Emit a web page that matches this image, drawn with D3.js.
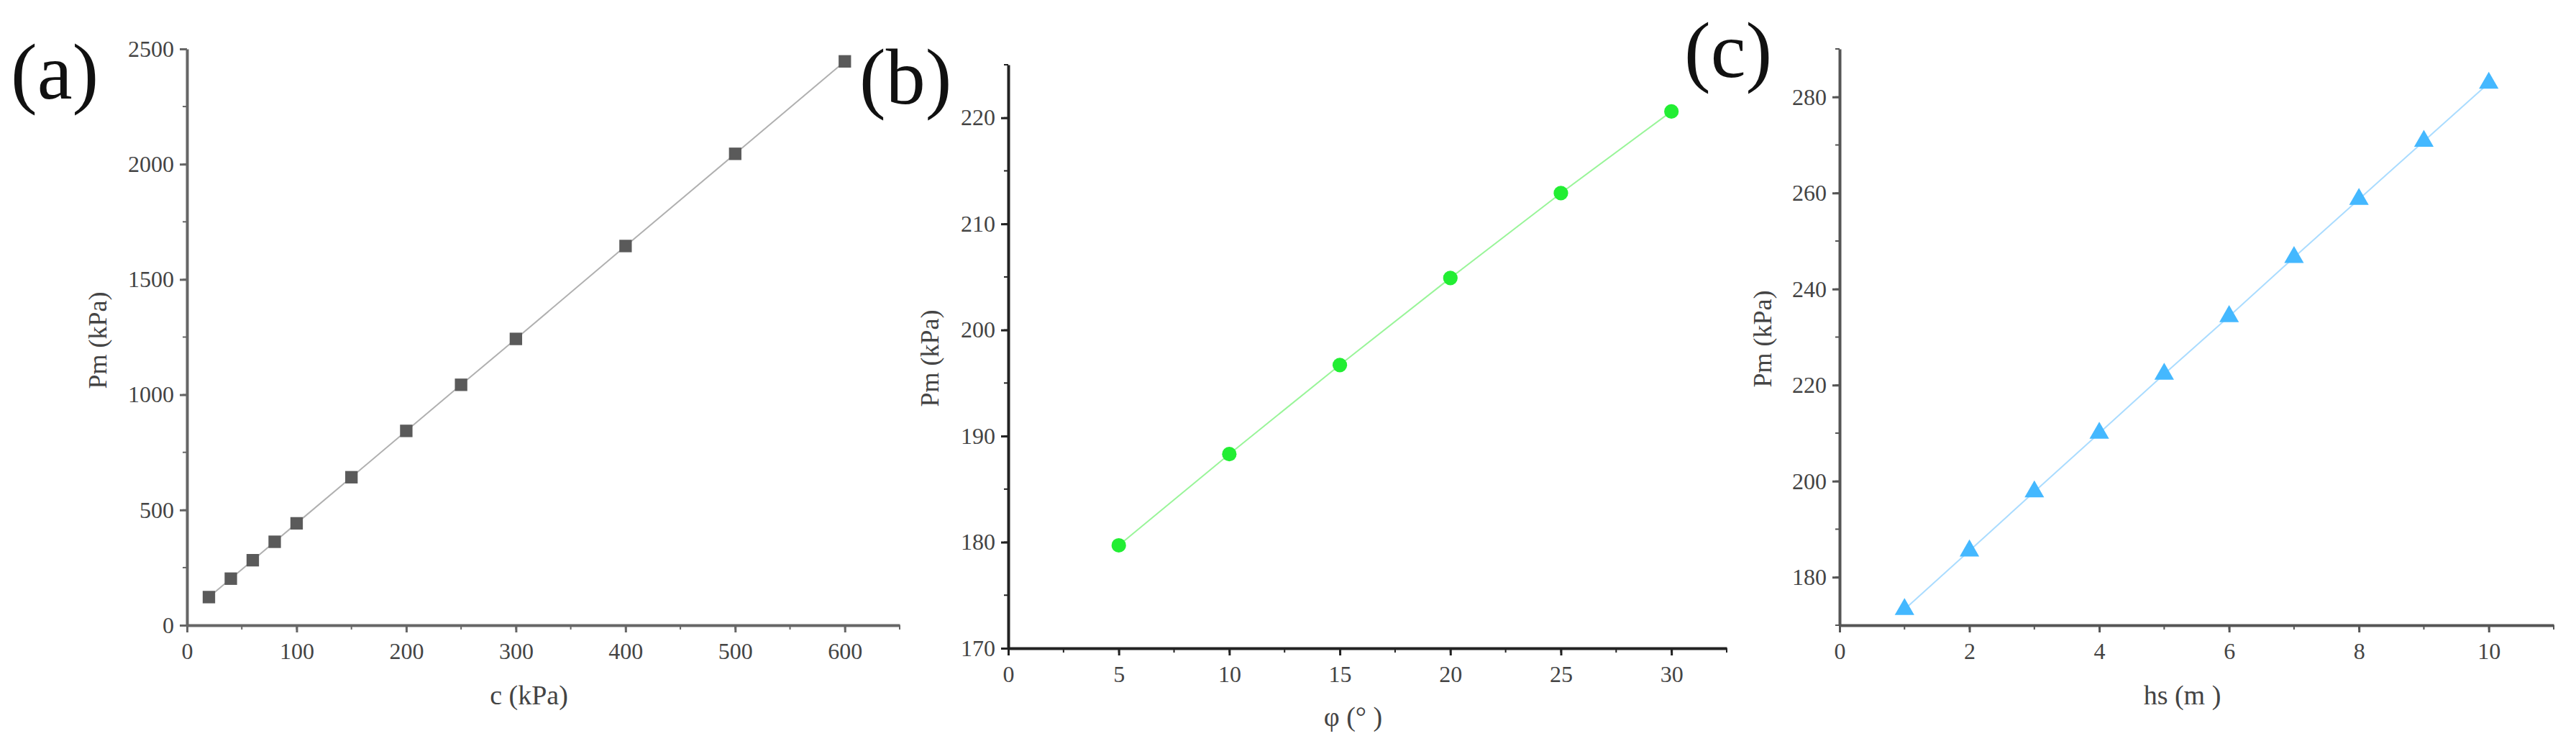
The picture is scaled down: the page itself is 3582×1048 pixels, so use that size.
<!DOCTYPE html>
<meta charset="utf-8">
<style>
    body { margin: 0; background: #fff; }
    text { font-family: "Liberation Serif", "DejaVu Serif", serif; }
</style>
<body>
<script src="https://d3js.org/d3.v7.min.js"></script>
<script>

    var width = 3582,
        height = 1048;

    // panel (a): cohesion
    var cVals = [20, 40, 60, 80, 100, 150, 200, 250, 300, 400, 500, 600];
    var pmA = [122, 202, 282, 362, 442, 642, 843, 1043, 1242, 1645, 2045, 2446];
    // panel (b): friction angle
    var phiVals = [5, 10, 15, 20, 25, 30];
    var pmB = [179.7, 188.3, 196.7, 204.9, 212.9, 220.6];
    // panel (c): depth
    var hsVals = [1, 2, 3, 4, 5, 6, 7, 8, 9, 10];
    var pmC = [173.3, 185.5, 197.8, 210, 222.3, 234.3, 246.6, 258.7, 270.8, 282.9];

    var xTicksA = [0, 100, 200, 300, 400, 500, 600],
        yTicksA = [0, 500, 1000, 1500, 2000, 2500];
    var xTicksB = [0, 5, 10, 15, 20, 25, 30],
        yTicksB = [170, 180, 190, 200, 210, 220];
    var xTicksC = [0, 2, 4, 6, 8, 10],
        yTicksC = [180, 200, 220, 240, 260, 280];

    var svg = d3.select("body").append("svg")
        .attr("width", width)
        .attr("height", height);

    var panels = [
        { label: "(a)", lx: 15, ly: 137, xs: cVals, ys: pmA,
          x0: 260, x1: 1251, xd: [0, 650], y0: 869, y1: 68, yd: [0, 2500],
          xt: xTicksA, xm: d3.range(0, 651, 50), yt: yTicksA, ym: d3.range(0, 2501, 250),
          axis: "#666", marker: "#5a5a5a", line: "#b0b0b0", shape: d3.symbolSquare, size: 300,
          ylab: "Pm  (kPa)", xlab: "c  (kPa)", ylx: 140, yly: 473, xly: 979 },
        { label: "(b)", lx: 1195, ly: 144, xs: phiVals, ys: pmB,
          x0: 1402, x1: 2401, xd: [0, 32.5], y0: 901, y1: 90, yd: [170, 225],
          xt: xTicksB, xm: d3.range(0, 32.6, 2.5), yt: yTicksB, ym: d3.range(170, 226, 5),
          axis: "#222", marker: "#22ee33", line: "#99f599", shape: d3.symbolCircle, size: 320,
          ylab: "Pm  (kPa)", xlab: "φ (°  )", ylx: 1297, yly: 498, xly: 1009 },
        { label: "(c)", lx: 2342, ly: 107, xs: hsVals, ys: pmC,
          x0: 2558, x1: 3551, xd: [0, 11], y0: 869, y1: 68, yd: [170, 290],
          xt: xTicksC, xm: d3.range(0, 11.1, 1), yt: yTicksC, ym: d3.range(170, 291, 10),
          axis: "#555", marker: "#44b8ff", line: "#aadcff", shape: d3.symbolTriangle, size: 320,
          ylab: "Pm  (kPa)", xlab: "hs  (m  )", ylx: 2455, yly: 471, xly: 979 }
    ];

    panels.forEach(function(p) {
        var x = d3.scaleLinear().domain(p.xd).range([p.x0, p.x1]);
        var y = d3.scaleLinear().domain(p.yd).range([p.y0, p.y1]);
        var g = svg.append("g");

        // minor ticks
        g.selectAll(".xm").data(p.xm).enter().append("line")
            .attr("x1", function(d) { return x(d); }).attr("x2", function(d) { return x(d); })
            .attr("y1", p.y0).attr("y2", p.y0 + 6)
            .attr("stroke", p.axis).attr("stroke-width", 2);
        g.selectAll(".ym").data(p.ym).enter().append("line")
            .attr("y1", function(d) { return y(d); }).attr("y2", function(d) { return y(d); })
            .attr("x1", p.x0).attr("x2", p.x0 - 6)
            .attr("stroke", p.axis).attr("stroke-width", 2);

        var xa = g.append("g").attr("transform", "translate(0," + p.y0 + ")")
            .call(d3.axisBottom(x).tickValues(p.xt).tickFormat(d3.format("d"))
                .tickSize(10).tickPadding(14).tickSizeOuter(0));
        var ya = g.append("g").attr("transform", "translate(" + p.x0 + ",0)")
            .call(d3.axisLeft(y).tickValues(p.yt).tickFormat(d3.format("d"))
                .tickSize(10).tickPadding(8).tickSizeOuter(0));
        [xa, ya].forEach(function(a) {
            a.select(".domain").attr("stroke", p.axis).attr("stroke-width", 4);
            a.selectAll(".tick line").attr("stroke", p.axis).attr("stroke-width", 3);
            a.selectAll(".tick text").attr("fill", "#444").style("font-size", "32px");
        });

        var line = d3.line()
            .x(function(d, i) { return x(p.xs[i]); })
            .y(function(d) { return y(d); });
        g.append("path").datum(p.ys)
            .attr("d", line).attr("fill", "none")
            .attr("stroke", p.line).attr("stroke-width", 2);

        g.selectAll(".pt").data(p.ys).enter().append("path")
            .attr("transform", function(d, i) { return "translate(" + x(p.xs[i]) + "," + y(d) + ")"; })
            .attr("d", d3.symbol().type(p.shape).size(p.size))
            .attr("fill", p.marker);

        g.append("text").attr("x", p.lx).attr("y", p.ly)
            .style("font-size", "110px").attr("fill", "#111").text(p.label);
        g.append("text").attr("x", (p.x0 + p.x1) / 2 - 20).attr("y", p.xly)
            .attr("text-anchor", "middle").style("font-size", "38px").attr("fill", "#444")
            .text(p.xlab);
        g.append("text")
            .attr("transform", "translate(" + p.ylx + "," + p.yly + ") rotate(-90)")
            .attr("text-anchor", "middle").attr("dominant-baseline", "middle")
            .style("font-size", "36px").attr("fill", "#444").text(p.ylab);
    });

</script>
